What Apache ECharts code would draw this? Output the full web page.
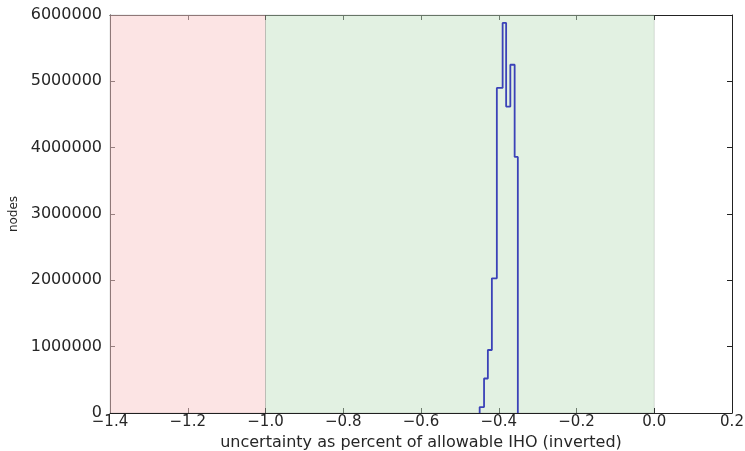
<!DOCTYPE html>
<html>
<head>
<meta charset="utf-8">
<script src="https://cdn.jsdelivr.net/npm/echarts@6/dist/echarts.min.js"></script>
<style>html,body{margin:0;padding:0;background:#fff}#c{width:745px;height:451px}</style>
</head>
<body>
<div id="c"></div>
<script>
// Histogram bin edges (x, fraction) and counts (nodes)
const binEdges = [-0.4491, -0.4378, -0.4280, -0.4177, -0.4049, -0.3900, -0.3810, -0.3702, -0.3591, -0.3509];
const binCounts = [90000, 520000, 950000, 2030000, 4900000, 5880000, 4620000, 5250000, 3860000];
// Shaded spans
const redSpan = [-1.4, -1.0];
const greenSpan = [-1.0, 0.0];
const xTicks = [-1.4, -1.2, -1.0, -0.8, -0.6, -0.4, -0.2, 0.0, 0.2];
const yTicks = [0, 1000000, 2000000, 3000000, 4000000, 5000000, 6000000];

const pts = [[binEdges[0], 0]];
for (let i = 0; i < binCounts.length; i++) {
  pts.push([binEdges[i], binCounts[i]]);
  pts.push([binEdges[i + 1], binCounts[i]]);
}
pts.push([binEdges[binEdges.length - 1], 0]);

const font = 'DejaVu Sans';
const txt = '#262626';
const fmtX = v => (v < 0 ? '\u2212' : '') + Math.abs(v).toFixed(1);

const chart = echarts.init(document.getElementById('c'), null, {renderer: 'canvas'});
chart.setOption({
  animation: false,
  backgroundColor: '#fff',
  grid: {left: 110, right: 13, top: 15, bottom: 38, containLabel: false, outerBoundsMode: 'none'},
  xAxis: [{
    type: 'value', min: xTicks[0], max: xTicks[xTicks.length - 1], interval: 0.2,
    position: 'bottom',
    name: 'uncertainty as percent of allowable IHO (inverted)',
    nameLocation: 'middle', nameGap: 20,
    nameTextStyle: {fontFamily: font, fontSize: 16, color: txt},
    axisLine: {show: true, onZero: false, lineStyle: {color: '#222', width: 1}},
    axisTick: {show: true, inside: true, length: 5, lineStyle: {color: '#222'}},
    axisLabel: {formatter: fmtX, fontFamily: font, fontSize: 15, color: txt, margin: 2},
    splitLine: {show: false}
  }, {
    type: 'value', min: xTicks[0], max: xTicks[xTicks.length - 1], interval: 0.2,
    position: 'top',
    axisLine: {show: true, onZero: false, lineStyle: {color: '#222', width: 1}},
    axisTick: {show: true, inside: true, length: 5, lineStyle: {color: '#222'}},
    axisLabel: {show: false}, splitLine: {show: false}
  }],
  yAxis: [{
    type: 'value', min: yTicks[0], max: yTicks[yTicks.length - 1], interval: 1000000,
    position: 'left',
    name: 'nodes', nameLocation: 'middle', nameGap: 80, nameRotate: 90,
    nameTextStyle: {fontFamily: font, fontSize: 12, color: txt},
    axisLine: {show: true, onZero: false, lineStyle: {color: '#222', width: 1}},
    axisTick: {show: true, inside: true, length: 5, lineStyle: {color: '#222'}},
    axisLabel: {formatter: v => String(v), fontFamily: font, fontSize: 16, color: txt, margin: 8},
    splitLine: {show: false}
  }, {
    type: 'value', min: yTicks[0], max: yTicks[yTicks.length - 1], interval: 1000000,
    position: 'right',
    axisLine: {show: true, onZero: false, lineStyle: {color: '#222', width: 1}},
    axisTick: {show: true, inside: true, length: 5, lineStyle: {color: '#222'}},
    axisLabel: {show: false}, splitLine: {show: false}
  }],
  series: [{
    type: 'line',
    data: pts,
    showSymbol: false,
    symbol: 'none',
    lineStyle: {color: '#3b42b8', width: 1.8},
    z: 5,
    markArea: {
      silent: true,
      data: [
        [{xAxis: redSpan[0], itemStyle: {color: 'rgba(250,205,205,0.55)', borderColor: 'rgba(0,0,0,0.12)', borderWidth: 1}}, {xAxis: redSpan[1]}],
        [{xAxis: greenSpan[0], itemStyle: {color: 'rgba(195,225,195,0.48)', borderColor: 'rgba(0,0,0,0.12)', borderWidth: 1}}, {xAxis: greenSpan[1]}]
      ]
    }
  }]
});
</script>
</body>
</html>
